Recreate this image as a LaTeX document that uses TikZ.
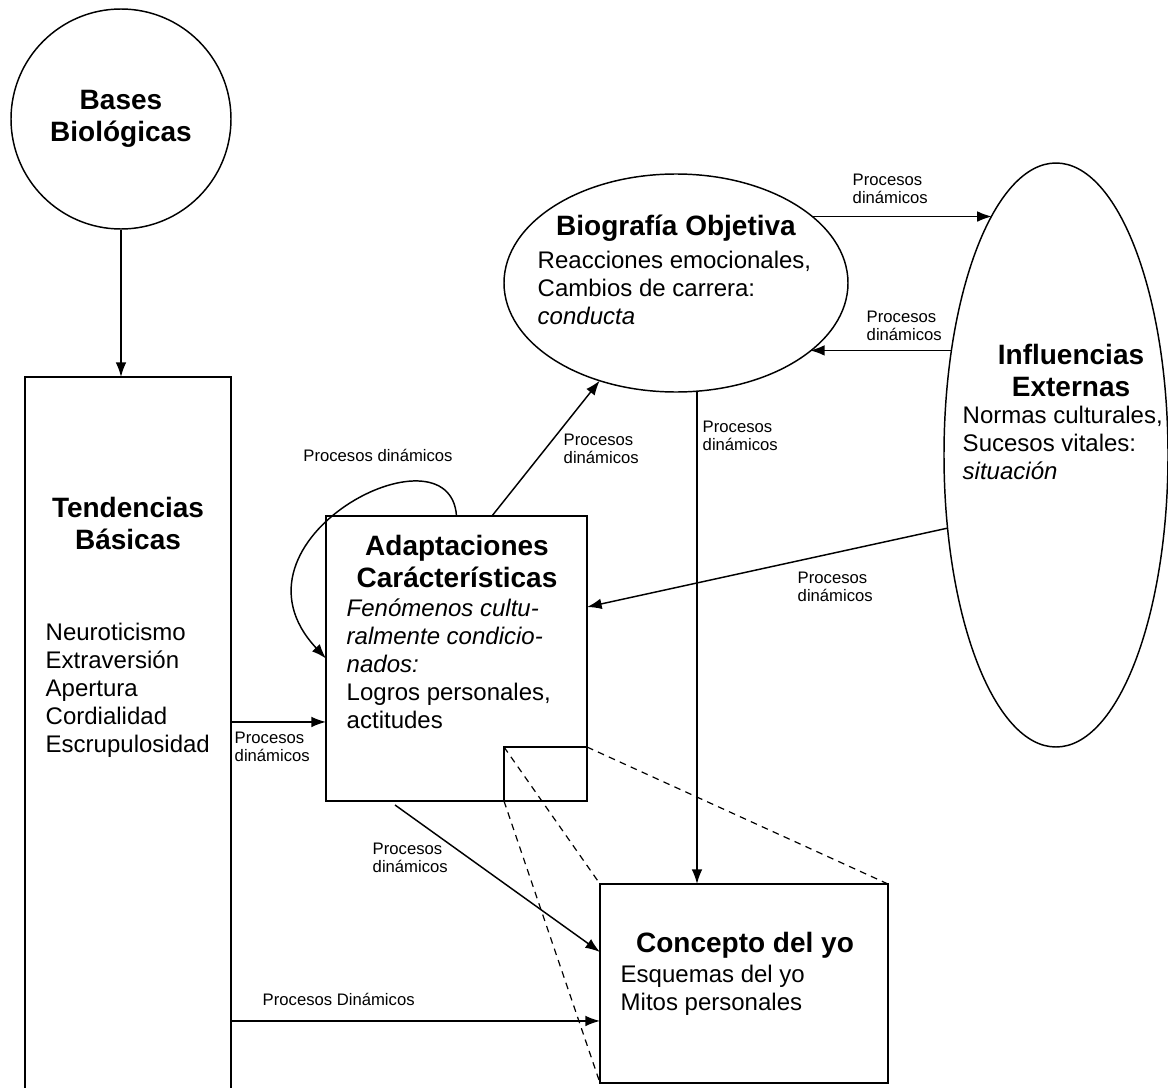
\documentclass[tikz,border=0pt]{standalone}
\usepackage{fontspec}
\setmainfont{Liberation Sans}
\usetikzlibrary{arrows.meta, shapes.geometric}

\begin{document}
\begin{tikzpicture}[x=0.75pt, y=-0.75pt, line width=1.1pt,
  box/.style={draw, rectangle, inner sep=0pt, outer sep=0pt},
  oval/.style={draw, ellipse, inner sep=0pt, outer sep=0pt},
  ttl/.style={font=\fontsize{21}{24}\selectfont\bfseries, align=center, inner sep=0pt},
  txt/.style={font=\fontsize{18}{21}\selectfont, align=left, inner sep=0pt},
  lbl/.style={font=\fontsize{12.5}{14}\selectfont, align=left, inner sep=0pt},
  arr/.style={-{Latex[length=11pt,width=8pt]}},
  zoomline/.style={line width=0.9pt, dash pattern=on 5pt off 4pt}]

\useasboundingbox (0,0) rectangle (1168,1088);
\clip (0,0) rectangle (1168,1088);

\node[draw, circle, minimum size=165pt, ttl] (bases) at (121,119) {Bases\\Biológicas};
\node[box, minimum width=154.5pt, minimum height=542.25pt] (tend) at (128,738.5) {};
\node[box, minimum width=195.75pt, minimum height=213.75pt] (adap) at (456.5,658.5) {};
\node[box, minimum width=62.25pt, minimum height=40.5pt] (zoom) at (545.5,774) {};
\node[box, minimum width=216pt, minimum height=149.25pt] (conc) at (744,983.5) {};
\node[oval, minimum width=258pt, minimum height=163.5pt] (bio) at (676,283) {};
\node[oval, minimum width=168pt, minimum height=438pt] (infl) at (1056,455) {};

\node[ttl] (tendT) at (128,523) {Tendencias\\Básicas};
\node[txt, anchor=west] (tendB) at (45,690) {Neuroticismo\\Extraversión\\Apertura\\Cordialidad\\Escrupulosidad};
\node[ttl] (adapT) at (457,561) {Adaptaciones\\Carácterísticas};
\node[txt, anchor=west] (adapB) at (346,664) {{\itshape Fenómenos cultu-}\\{\itshape ralmente condicio-}\\{\itshape nados:}\\Logros personales,\\actitudes};
\node[ttl] (bioT) at (676,228) {Biografía Objetiva};
\node[txt, anchor=west] (bioB) at (537,288) {Reacciones emocionales,\\Cambios de carrera:\\{\itshape conducta}};
\node[ttl] (inflT) at (1071,370) {Influencias\\Externas};
\node[txt, anchor=west] (inflB) at (962,443) {Normas culturales,\\Sucesos vitales:\\{\itshape situación}};
\node[ttl] (concT) at (745,945) {Concepto del yo};
\node[txt, anchor=west] (concB) at (620,990) {Esquemas del yo\\Mitos personales};

\draw[arr] (bases.south) -- (bases.south |- tend.north);
\draw[arr] ([xshift=26.6pt]adap.north) -- (bio.232);
\draw[arr] (adap.north) .. controls (450,420) and (215,540) .. (adap.west);
\draw[arr] (infl.214) -- ([yshift=38.6pt]adap.east);
\coordinate (a1) at ([yshift=-47.6pt]adap.west);
\draw[arr] (tend.east |- a1) -- (a1);
\draw[arr] ([xshift=-46.1pt,yshift=-3pt]adap.south) -- ([yshift=23.6pt]conc.west);
\coordinate (c1) at ([xshift=-35.25pt]conc.north);
\draw[arr] (bio.south -| c1) -- (c1);
\draw[arr] (bio.26) -- (bio.26 -| infl.105);
\draw[arr] (infl.135.5) -- (infl.135.5 -| bio.333);
\coordinate (c2) at ([yshift=-28.1pt]conc.west);
\draw[arr] (tend.east |- c2) -- (c2);

\foreach \a in {north west, south west, north east}
  \draw[zoomline] (zoom.\a) -- (conc.\a);

\node[lbl] (l1) at (378,455) {Procesos dinámicos};
\node[lbl, anchor=west] (l2) at (563,449) {Procesos\\dinámicos};
\node[lbl, anchor=west] (l3) at (702,436) {Procesos\\dinámicos};
\node[lbl, anchor=west] (l4) at (852,189) {Procesos\\dinámicos};
\node[lbl, anchor=west] (l5) at (866,326) {Procesos\\dinámicos};
\node[lbl, anchor=west] (l6) at (797,587) {Procesos\\dinámicos};
\node[lbl, anchor=west] (l7) at (234,747) {Procesos\\dinámicos};
\node[lbl, anchor=west] (l8) at (372,858) {Procesos\\dinámicos};
\node[lbl, anchor=west] (l9) at (262,999) {Procesos Dinámicos};
\end{tikzpicture}
\end{document}
